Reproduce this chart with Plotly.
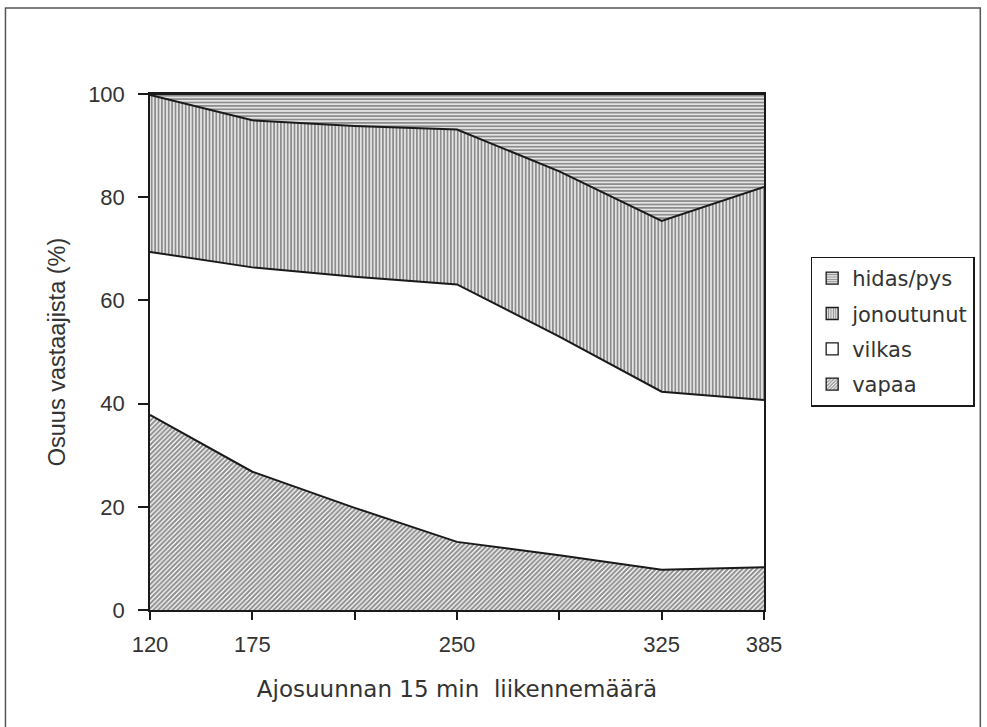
import plotly.graph_objects as go

# ---- data ----
x_labels = ["120", "175", "", "250", "", "325", "385"]
vapaa = [37.8, 26.8, 19.8, 13.2, 10.6, 7.8, 8.3]
vilkas = [31.6, 39.6, 44.8, 49.9, 42.4, 34.5, 32.4]
jonoutunut = [30.4, 28.5, 29.2, 30.0, 32.0, 33.1, 41.3]
hidas_pys = [0.2, 5.1, 6.2, 6.9, 15.0, 24.6, 18.0]
y_ticks = [0, 20, 40, 60, 80, 100]

series_names = ["vapaa", "vilkas", "jonoutunut", "hidas/pys"]
series_values = [vapaa, vilkas, jonoutunut, hidas_pys]
series_patterns = ["/", "", "|", "-"]

x_pos = list(range(len(x_labels)))

INK = "#1a1a1a"
TXT = "#333333"
HATCH = "#1c1c1c"

fig = go.Figure()
for name, vals, shape in zip(series_names, series_values, series_patterns):
    fig.add_trace(go.Scatter(
        x=x_pos, y=vals, name=name, stackgroup="one", mode="lines",
        line=dict(color=INK, width=2),
        fillcolor="white",
        fillpattern=dict(shape=shape, fgcolor=HATCH, bgcolor="white",
                         size=3.4, solidity=0.62),
        showlegend=False, hoverinfo="skip",
    ))

# legend swatches (square, patterned, outlined), top entry = top layer
for name, shape in reversed(list(zip(series_names, series_patterns))):
    fig.add_trace(go.Bar(
        x=[None], y=[None], name=name, legendgroup=name,
        marker=dict(color="white", line=dict(color=INK, width=1.3),
                    pattern=dict(shape=shape, fgcolor=HATCH, bgcolor="white",
                                 size=3, solidity=0.55)),
    ))

axis_common = dict(showgrid=False, zeroline=False, showline=True, linecolor=INK,
                   linewidth=1.5, mirror=True, ticks="outside", tickcolor=INK,
                   tickwidth=1.5)

fig.update_layout(
    width=987, height=727, autosize=False,
    margin=dict(l=150, r=221, t=94, b=117),
    paper_bgcolor="white", plot_bgcolor="white",
    xaxis=dict(**axis_common, range=[0, len(x_labels) - 1], tickvals=x_pos,
               ticktext=x_labels, ticklen=8, ticklabelstandoff=6,
               tickfont=dict(family="Liberation Sans", size=22, color=TXT),
               title=dict(text="Ajosuunnan 15 min\u00a0 liikennemäärä", standoff=25,
                          font=dict(family="DejaVu Sans", size=23, color=TXT))),
    yaxis=dict(**axis_common, range=[0, 100], tickvals=y_ticks, ticklen=10,
               ticklabelstandoff=9,
               tickfont=dict(family="Liberation Sans", size=22, color=TXT),
               title=dict(text="Osuus vastaajista (%)", standoff=16,
                          font=dict(family="Liberation Sans", size=23.5, color=TXT))),
    xaxis2=dict(overlaying="x", range=[0, len(x_labels) - 1], tickvals=x_pos,
                ticks="inside", ticklen=7, tickwidth=1.5, tickcolor=INK,
                showticklabels=False, showline=False, showgrid=False, zeroline=False),
    yaxis2=dict(overlaying="y", range=[0, 100], tickvals=y_ticks, side="left",
                ticks="inside", ticklen=8, tickwidth=1.5, tickcolor=INK,
                showticklabels=False, showline=False, showgrid=False, zeroline=False),
    legend=dict(x=1.076, y=0.685, xanchor="left", yanchor="top",
                traceorder="grouped", tracegroupgap=5,
                bordercolor=INK, borderwidth=1.5, bgcolor="white",
                font=dict(family="DejaVu Sans", size=21, color=TXT)),
    shapes=[dict(type="rect", xref="paper", yref="paper",
                 x0=-0.2354, x1=1.3523, y0=-0.235, y1=1.1667,
                 line=dict(color="#555555", width=1.5), layer="below")],
    showlegend=True,
)

fig.write_html("out.html")
